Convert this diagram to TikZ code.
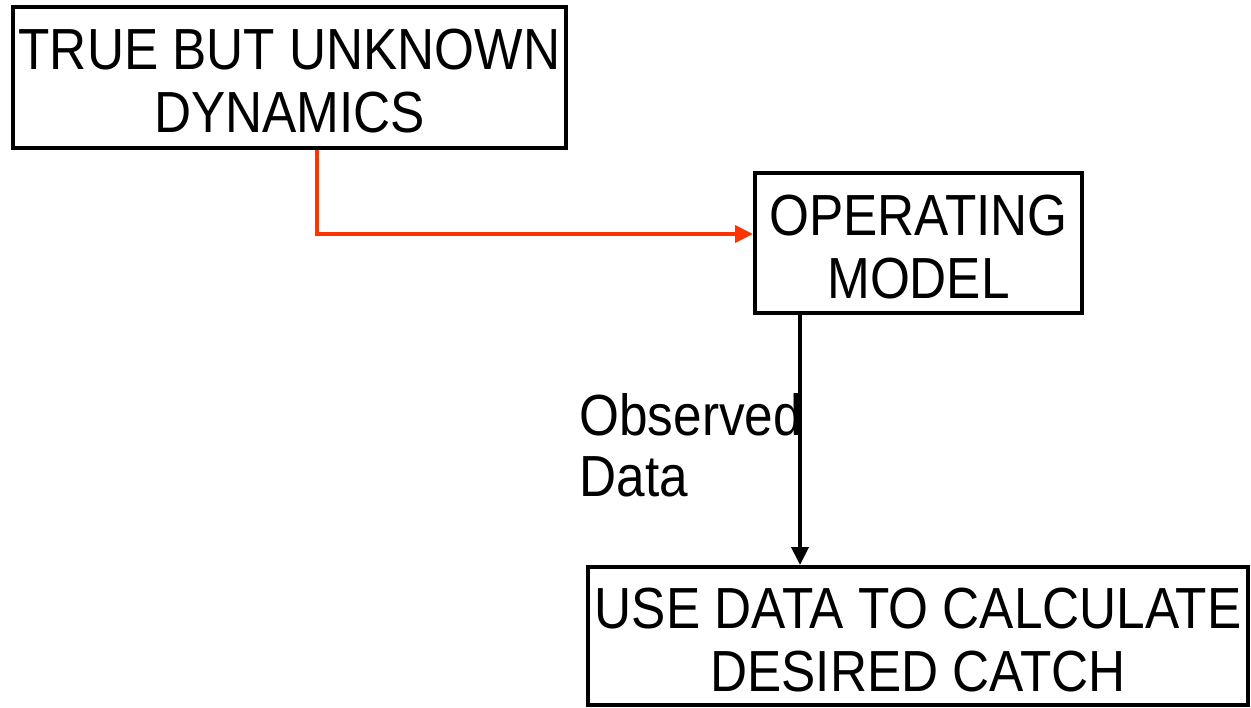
\documentclass[tikz,border=0pt]{standalone}
\usepackage{fontspec}
\setmainfont[FakeStretch=0.885]{Liberation Sans}
\usetikzlibrary{arrows.meta}
\definecolor{arrowred}{RGB}{255,51,0}
\tikzset{
 box/.style={draw, line width=2pt, inner sep=0pt, align=center, text height=55.3pt, font=\fontsize{29pt}{31.5pt}\selectfont},
 lbl/.style={inner sep=0pt, align=left, font=\fontsize{29pt}{30.5pt}\selectfont},
 tip/.style={-{Triangle[length=9pt,width=8.5pt]}}
}
\begin{document}
\begin{tikzpicture}[x=0.5pt,y=-0.5pt]
\useasboundingbox (0,0) rectangle (1251,707);
\path
(289.5,77.5) node[box, minimum width=276.5pt, minimum height=70.5pt] (T) {TRUE BUT UNKNOWN\\DYNAMICS}
(918.5,243) node[box, minimum width=163.5pt, minimum height=70pt] (M) {OPERATING\\MODEL}
(918,636) node[box, minimum width=330pt, minimum height=69pt] (U) {USE DATA TO CALCULATE\\DESIRED CATCH}
(579,393) node[lbl, anchor=north west] (obs) {Observed\\Data}
(317,234) coordinate (bend)
(800,0) coordinate (down);
%\draw (T) -- (M);
\draw[tip, arrowred, line width=2pt] (T.south -| bend) -- (bend) -- (bend -| M.west);
\draw[tip, line width=2pt] (M.south -| down) -- (U.north -| down);
\end{tikzpicture}
\end{document}
